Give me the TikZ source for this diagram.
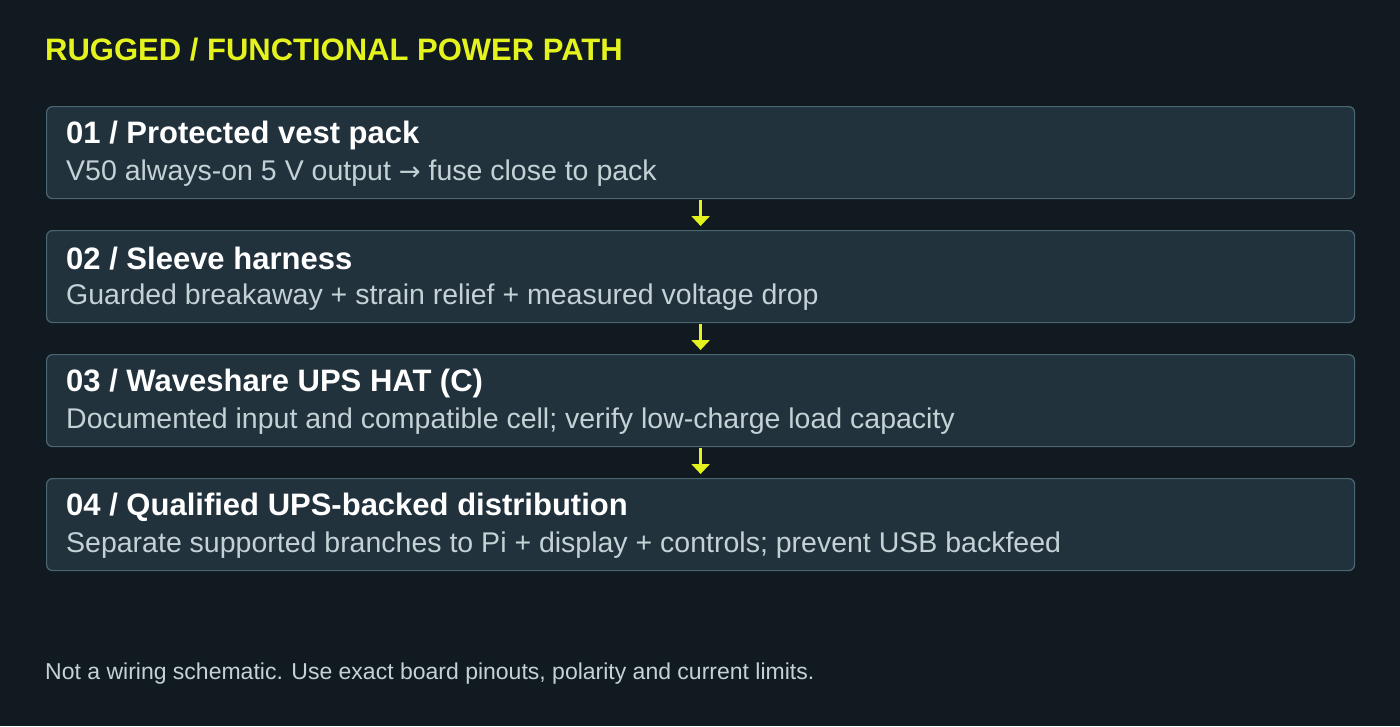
\documentclass[tikz,border=0pt]{standalone}
\usepackage{fontspec}
\setmainfont{Liberation Sans}
\newfontfamily\symfont{DejaVu Sans}
\usetikzlibrary{arrows.meta,positioning}
\definecolor{bg}{HTML}{111A20}
\definecolor{boxfill}{HTML}{21323D}
\definecolor{boxline}{HTML}{4A6670}
\definecolor{accent}{HTML}{E4F21E}
\definecolor{subtxt}{HTML}{C4D2D6}
\tikzset{
  stage/.style={draw=boxline,line width=1.2pt,fill=boxfill,rounded corners=6pt,
    minimum width=1308pt,minimum height=92pt,anchor=north west},
  head/.style={anchor=west,inner sep=0pt,text=white,font=\fontsize{31}{34}\selectfont\bfseries},
  sub/.style={anchor=west,inner sep=0pt,text=subtxt,font=\fontsize{28.5}{32}\selectfont},
  flow/.style={draw=accent,line width=2.5pt,-{Triangle[width=18pt,length=10pt]}}
}
\begin{document}
\begin{tikzpicture}[x=1pt,y=-1pt]
  \fill[bg] (0,0) rectangle (1400,726);
  \useasboundingbox (0,0) rectangle (1400,726);
  \node[anchor=west,inner sep=0pt,text=accent,font=\fontsize{31}{34}\selectfont\bfseries] (title) at (45,50) {RUGGED / FUNCTIONAL POWER PATH};
  % stages
  \node[stage] (s1) at (46,106) {};
  \node[head] at (66,135) {01 / Protected vest pack};
  \node[sub] at (66,173) {V50 always-on 5 V output {\symfont\fontsize{26}{30}\selectfont →} fuse close to pack};
  \node[stage] (s2) at (46,230) {};
  \node[head] at (66,259) {02 / Sleeve harness};
  \node[sub] at (66,297) {Guarded breakaway + strain relief + measured voltage drop};
  \node[stage] (s3) at (46,354) {};
  \node[head] at (66,383) {03 / Waveshare UPS HAT (C)};
  \node[sub] at (66,421) {Documented input and compatible cell; verify low-charge load capacity};
  \node[stage] (s4) at (46,478) {};
  \node[head] at (66,507) {04 / Qualified UPS-backed distribution};
  \node[sub] at (66,545) {Separate supported branches to Pi + display + controls; prevent USB backfeed};
  % arrows
  \foreach \a/\b in {s1/s2,s2/s3,s3/s4}
    \draw[flow] ([yshift=-1pt]\a.south) -- ([yshift=4pt]\b.north);
  \node[anchor=west,inner sep=0pt,text=subtxt,font=\fontsize{23}{26}\selectfont] (note) at (45,674) {Not a wiring schematic. Use exact board pinouts, polarity and current limits.};
\end{tikzpicture}
\end{document}
